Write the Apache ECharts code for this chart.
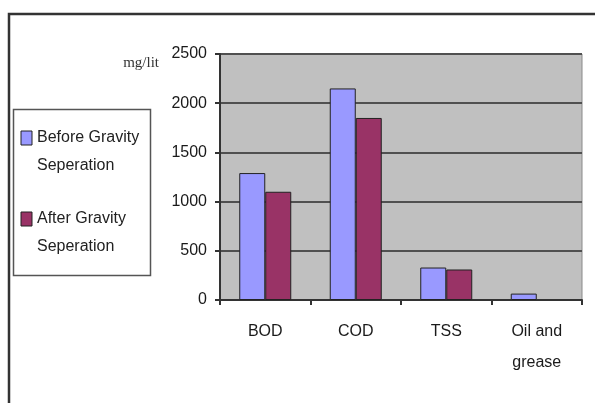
<!DOCTYPE html>
<html>
<head>
<meta charset="utf-8">
<script src="https://cdn.jsdelivr.net/npm/echarts@6/dist/echarts.min.js"></script>
<style>html,body{margin:0;padding:0;background:#fff;}#c{width:595px;height:403px;}</style>
</head>
<body>
<div id="c"></div>
<script>
var categories = ['BOD', 'COD', 'TSS', 'Oil and\ngrease'];
var seriesNames = ['Before Gravity\nSeperation', 'After Gravity\nSeperation'];
var beforeValues = [1290, 2150, 330, 65];
var afterValues = [1100, 1850, 310, null];
var yTicks = [0, 500, 1000, 1500, 2000, 2500];
var unitLabel = 'mg/lit';
var colors = ['#9999ff', '#993366'];

var chart = echarts.init(document.getElementById('c'), null, {renderer: 'canvas'});
var font = 'Liberation Sans, Arial, sans-serif';
var legendItems = [];
seriesNames.forEach(function (n, i) {
  var y0 = i === 0 ? 131 : 212;
  legendItems.push({type: 'rect', shape: {x: 21, y: y0, width: 11, height: 14},
    style: {fill: colors[i], stroke: '#222', lineWidth: 1}});
  legendItems.push({type: 'text', x: 37, y: y0 - 7, style: {text: n, font: '16px ' + font,
    fill: '#222', lineHeight: 28, textVerticalAlign: 'top'}});
});
var option = {
  animation: false,
  grid: {left: 220, top: 54, right: 13, bottom: 103, show: true, backgroundColor: '#c0c0c0',
    borderColor: '#8a8a8a', borderWidth: 1},
  xAxis: {type: 'category', data: categories,
    axisLine: {lineStyle: {color: '#333', width: 2}},
    axisTick: {show: true, length: 5, lineStyle: {color: '#333', width: 2}},
    axisLabel: {color: '#1a1a1a', fontSize: 16, fontFamily: font, margin: 16, lineHeight: 31}},
  yAxis: {type: 'value', min: yTicks[0], max: yTicks[yTicks.length - 1], interval: 500,
    axisLine: {show: true, lineStyle: {color: '#333', width: 2}},
    axisTick: {show: true, length: 5, lineStyle: {color: '#333', width: 2}},
    splitLine: {lineStyle: {color: '#505050', width: 2}},
    axisLabel: {color: '#1a1a1a', fontSize: 16, fontFamily: font, margin: 13,
      formatter: function (v) { return String(v); }}},
  series: [
    {name: seriesNames[0], type: 'bar', data: beforeValues, barWidth: 26, barGap: '0%',
      itemStyle: {color: colors[0], borderColor: '#222', borderWidth: 1}},
    {name: seriesNames[1], type: 'bar', data: afterValues, barWidth: 26, barGap: '0%',
      itemStyle: {color: colors[1], borderColor: '#222', borderWidth: 1}}
  ],
  graphic: [
    {type: 'polyline', shape: {points: [[9, 403], [9, 14], [595, 14]]},
      style: {stroke: '#333', lineWidth: 2.5, fill: null}},
    {type: 'rect', shape: {x: 13.5, y: 109.5, width: 137, height: 166},
      style: {fill: '#fff', stroke: '#555', lineWidth: 1.5}},
    {type: 'text', x: 159, y: 63, style: {text: unitLabel, font: '15px Liberation Serif, Times New Roman, serif',
      fill: '#333', textAlign: 'right', textVerticalAlign: 'middle'}}
  ].concat(legendItems)
};
chart.setOption(option);
</script>
</body>
</html>
